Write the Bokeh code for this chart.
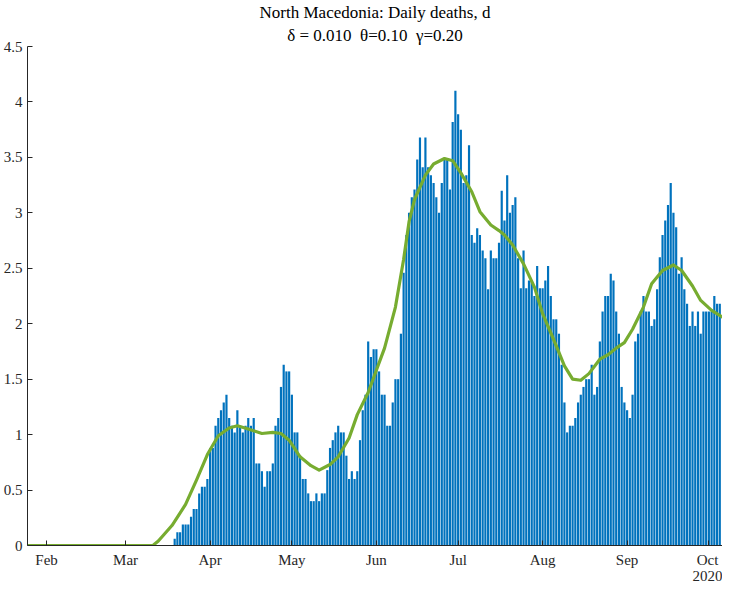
import pandas as pd
from bokeh.plotting import figure
from bokeh.models import Range1d, FixedTicker, CustomJSTickFormatter, Title
from bokeh.embed import file_html
from bokeh.resources import INLINE

# ---------------- data ----------------
start_date = "2020-03-19"
deaths = [
    0.06, 0.12, 0.12, 0.19, 0.19, 0.19, 0.26, 0.33, 0.33, 0.47,
    0.53, 0.53, 0.60, 0.88, 0.88, 1.08, 1.15, 1.22, 1.29, 1.36,
    1.15, 1.08, 1.02, 1.22, 1.08, 1.02, 1.08, 1.15, 1.08, 1.15,
    0.74, 0.74, 0.67, 0.53, 0.67, 0.67, 0.74, 1.08, 1.15, 1.43,
    1.63, 1.57, 1.57, 1.36, 1.02, 1.02, 0.81, 0.60, 0.60, 0.47,
    0.40, 0.40, 0.47, 0.40, 0.47, 0.47, 0.68, 0.88, 0.95, 1.02,
    1.08, 1.02, 1.02, 0.81, 0.60, 0.67, 0.60, 0.67, 0.95, 1.22,
    1.36, 1.84, 1.70, 1.77, 1.77, 1.57, 1.36, 1.36, 1.08, 1.08,
    1.29, 1.50, 1.50, 1.91, 2.46, 2.80, 3.00, 3.14, 3.21, 3.48,
    3.68, 3.41, 3.68, 3.41, 3.34, 3.27, 3.14, 3.00, 3.27, 3.48,
    3.48, 3.21, 3.82, 4.10, 3.89, 3.75, 3.27, 3.34, 3.61, 2.80,
    2.73, 2.86, 2.80, 2.66, 2.59, 2.31, 2.66, 2.59, 2.59, 2.73,
    3.20, 2.93, 3.34, 3.00, 3.07, 3.14, 2.59, 2.32, 2.66, 2.32,
    2.39, 2.39, 2.25, 2.52, 2.32, 2.32, 2.39, 2.52, 2.25, 2.04,
    2.04, 1.91, 1.63, 1.29, 1.02, 1.08, 1.08, 1.15, 1.29, 1.36,
    1.43, 1.50, 1.50, 1.63, 1.36, 1.43, 1.84, 2.11, 2.25, 2.25,
    2.45, 2.39, 2.11, 1.91, 1.43, 1.29, 1.22, 1.15, 1.36, 1.84,
    1.91, 2.11, 2.25, 2.11, 2.11, 1.98, 2.04, 2.31, 2.60, 2.80,
    2.93, 3.07, 3.27, 3.00, 2.87, 2.45, 2.60, 2.31, 2.18, 1.98,
    2.11, 1.98, 2.11, 1.91, 2.11, 2.11, 2.11, 2.11, 2.25, 2.18,
    2.18,
]

curve_dates = [
    "2020-01-25", "2020-03-11", "2020-03-13", "2020-03-18", "2020-03-23",
    "2020-03-27", "2020-03-31", "2020-04-04", "2020-04-08", "2020-04-11",
    "2020-04-15", "2020-04-20", "2020-04-24", "2020-04-27", "2020-04-30",
    "2020-05-04", "2020-05-08", "2020-05-11", "2020-05-15", "2020-05-18",
    "2020-05-22", "2020-05-25", "2020-05-29", "2020-06-01", "2020-06-04",
    "2020-06-08", "2020-06-11", "2020-06-13", "2020-06-15", "2020-06-19",
    "2020-06-22", "2020-06-26", "2020-06-29", "2020-07-02", "2020-07-06",
    "2020-07-09", "2020-07-13", "2020-07-16", "2020-07-18", "2020-07-21",
    "2020-07-25", "2020-07-29", "2020-08-01", "2020-08-05", "2020-08-09",
    "2020-08-12", "2020-08-15", "2020-08-18", "2020-08-22", "2020-08-25",
    "2020-08-28", "2020-08-31", "2020-09-03", "2020-09-07", "2020-09-10",
    "2020-09-14", "2020-09-18", "2020-09-21", "2020-09-25", "2020-09-28",
    "2020-10-02", "2020-10-06",
]
curve_values = [
    0.00, 0.00, 0.04, 0.18, 0.37,
    0.59, 0.82, 0.99, 1.06, 1.08,
    1.05, 1.01, 1.02, 1.01, 0.95,
    0.80, 0.72, 0.68, 0.73, 0.80,
    0.97, 1.18, 1.38, 1.58, 1.78,
    2.15, 2.58, 2.92, 3.12, 3.34,
    3.44, 3.49, 3.47, 3.36, 3.19,
    3.01, 2.89, 2.84, 2.80, 2.71,
    2.54, 2.33, 2.09, 1.86, 1.62,
    1.50, 1.49, 1.55, 1.68, 1.72,
    1.78, 1.83, 1.95, 2.15, 2.36,
    2.48, 2.53, 2.48, 2.34, 2.21,
    2.12, 2.06,
]

month_starts = ["2020-02-01", "2020-03-01", "2020-04-01", "2020-05-01", "2020-06-01",
                "2020-07-01", "2020-08-01", "2020-09-01", "2020-10-01"]
month_labels = ["Feb", "Mar", "Apr", "May", "Jun", "Jul", "Aug", "Sep", "Oct\n2020"]
y_ticks = [0, 0.5, 1, 1.5, 2, 2.5, 3, 3.5, 4, 4.5]
y_tick_labels = ["0", "0.5", "1", "1.5", "2", "2.5", "3", "3.5", "4", "4.5"]
title_text = "North Macedonia: Daily deaths, d"
subtitle_text = "δ = 0.010 \u00a0θ=0.10 \u00a0γ=0.20"

# ---------------- helpers ----------------
DAY = 86400000


def ms(d):
    return int(pd.Timestamp(d).value // 10**6)


bar_x = [ms(d) for d in pd.date_range(start_date, periods=len(deaths), freq="D")]
curve_x = [ms(d) for d in curve_dates]
month_x = [ms(d) for d in month_starts]

FONT = "Liberation Serif"
AX_COL = "#262626"

p = figure(frame_width=695, frame_height=499, output_backend="svg", toolbar_location=None,
           x_axis_type="datetime", title=None,
           x_range=Range1d(ms("2020-01-25"), ms("2020-10-06")),
           y_range=Range1d(0, 4.5),
           min_border_left=26, min_border_right=0, min_border_bottom=0, min_border_top=0,
           background_fill_color="white", border_fill_color="white")

p.vbar(x=bar_x, top=deaths, width=0.8 * DAY, bottom=0,
       fill_color="#0072BD", line_color=None)
p.line(x=curve_x, y=curve_values, line_color="#77AC30", line_width=3.2,
       line_join="round", line_cap="round")

# titles (first added sits closest to plot)
p.add_layout(Title(text=subtitle_text, align="center", text_font=FONT,
                   text_font_size="17px", text_font_style="normal",
                   text_color="black", standoff=4), "above")
p.add_layout(Title(text=title_text, align="center", text_font=FONT,
                   text_font_size="17px", text_font_style="normal",
                   text_color="black", standoff=0), "above")

code = "const i = tvals.indexOf(tick); return i >= 0 ? tlabels[i] : '';"
xa = p.xaxis[0]
xa.ticker = FixedTicker(ticks=month_x)
xa.formatter = CustomJSTickFormatter(args=dict(tvals=month_x, tlabels=month_labels), code=code)
ya = p.yaxis[0]
ya.ticker = FixedTicker(ticks=y_ticks)
ya.formatter = CustomJSTickFormatter(args=dict(tvals=y_ticks, tlabels=y_tick_labels), code=code)

for ax in (xa, ya):
    ax.axis_label = None
    ax.axis_label_standoff = 0
    ax.axis_line_color = AX_COL
    ax.axis_line_width = 1
    ax.major_tick_line_color = AX_COL
    ax.major_tick_in = 5
    ax.major_tick_out = 0
    ax.minor_tick_line_color = None
    ax.major_label_text_font = FONT
    ax.major_label_text_font_size = "15px"
    ax.major_label_text_color = AX_COL
xa.major_label_standoff = 6
xa.major_label_text_line_height = 1.05
ya.major_label_standoff = 5

p.xgrid.visible = False
p.ygrid.visible = False
p.outline_line_color = None

open("out.html", "w").write(file_html(p, INLINE))
